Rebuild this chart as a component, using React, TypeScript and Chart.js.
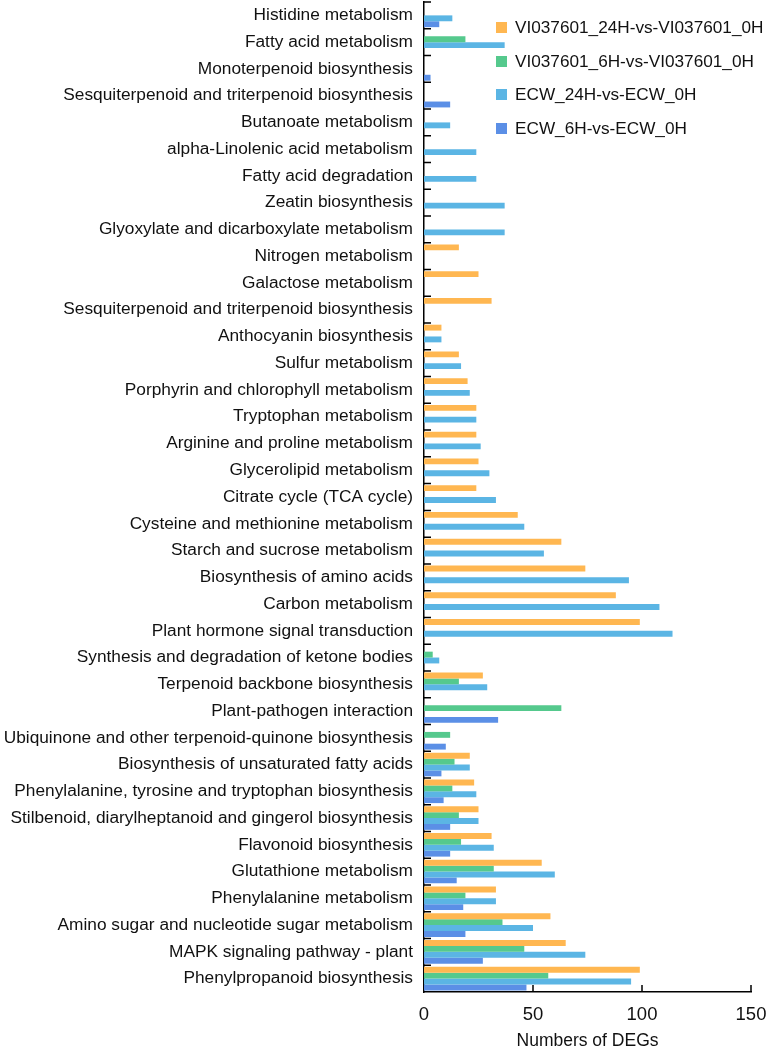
import React, { useEffect, useRef } from "react";
import { Chart, registerables } from "chart.js";

Chart.register(...registerables);

const categories = [
  "Histidine metabolism",
  "Fatty acid metabolism",
  "Monoterpenoid biosynthesis",
  "Sesquiterpenoid and triterpenoid biosynthesis",
  "Butanoate metabolism",
  "alpha-Linolenic acid metabolism",
  "Fatty acid degradation",
  "Zeatin biosynthesis",
  "Glyoxylate and dicarboxylate metabolism",
  "Nitrogen metabolism",
  "Galactose metabolism",
  "Sesquiterpenoid and triterpenoid biosynthesis",
  "Anthocyanin biosynthesis",
  "Sulfur metabolism",
  "Porphyrin and chlorophyll metabolism",
  "Tryptophan metabolism",
  "Arginine and proline metabolism",
  "Glycerolipid metabolism",
  "Citrate cycle (TCA cycle)",
  "Cysteine and methionine metabolism",
  "Starch and sucrose metabolism",
  "Biosynthesis of amino acids",
  "Carbon metabolism",
  "Plant hormone signal transduction",
  "Synthesis and degradation of ketone bodies",
  "Terpenoid backbone biosynthesis",
  "Plant-pathogen interaction",
  "Ubiquinone and other terpenoid-quinone biosynthesis",
  "Biosynthesis of unsaturated fatty acids",
  "Phenylalanine, tyrosine and tryptophan biosynthesis",
  "Stilbenoid, diarylheptanoid and gingerol biosynthesis",
  "Flavonoid biosynthesis",
  "Glutathione metabolism",
  "Phenylalanine metabolism",
  "Amino sugar and nucleotide sugar metabolism",
  "MAPK signaling pathway - plant",
  "Phenylpropanoid biosynthesis",
];

const seriesNames = [
  "VI037601_24H-vs-VI037601_0H",
  "VI037601_6H-vs-VI037601_0H",
  "ECW_24H-vs-ECW_0H",
  "ECW_6H-vs-ECW_0H",
];

const vi24h = [
  0, 0, 0, 0, 0, 0, 0, 0, 0, 16, 25, 31, 8, 16, 20, 24, 24, 25, 24, 43, 63, 74, 88, 99,
  0, 27, 0, 0, 21, 23, 25, 31, 54, 33, 58, 65, 99,
];
const vi6h = [
  0, 19, 0, 0, 0, 0, 0, 0, 0, 0, 0, 0, 0, 0, 0, 0, 0, 0, 0, 0, 0, 0, 0, 0,
  4, 16, 63, 12, 14, 13, 16, 17, 32, 19, 36, 46, 57,
];
const ecw24h = [
  13, 37, 0, 0, 12, 24, 24, 37, 37, 0, 0, 0, 8, 17, 21, 24, 26, 30, 33, 46, 55, 94, 108, 114,
  7, 29, 0, 0, 21, 24, 25, 32, 60, 33, 50, 74, 95,
];
const ecw6h = [
  7, 0, 3, 12, 0, 0, 0, 0, 0, 0, 0, 0, 0, 0, 0, 0, 0, 0, 0, 0, 0, 0, 0, 0,
  0, 0, 34, 10, 8, 9, 12, 12, 15, 18, 19, 27, 47,
];

const xTicks = [0, 50, 100, 150];
const colors = ["#FFB751", "#55C98D", "#5BB5E4", "#5B8FE6"];

const FONT = "'Liberation Sans', Arial, sans-serif";

const innerTicks = {
  id: "innerTicks",
  afterDraw(chart: any) {
    const { ctx, chartArea } = chart;
    const y = chart.scales.y;
    const x = chart.scales.x;
    ctx.save();
    ctx.strokeStyle = "#000";
    ctx.lineWidth = 1.5;
    const n = y.ticks.length;
    const step = (y.bottom - y.top) / n;
    ctx.beginPath();
    for (let i = 0; i < n; i++) {
      const yy = y.getPixelForValue(i) - step / 2;
      ctx.moveTo(chartArea.left, yy);
      ctx.lineTo(chartArea.left + 7, yy);
    }
    for (const v of xTicks) {
      if (v === 0) continue;
      const xx = x.getPixelForValue(v);
      ctx.moveTo(xx, chartArea.bottom);
      ctx.lineTo(xx, chartArea.bottom - 7);
    }
    ctx.stroke();
    ctx.restore();
  },
};

export default function App() {
  const ref = useRef<HTMLCanvasElement>(null);
  useEffect(() => {
    document.body.style.margin = "0";
    const data = [vi24h, vi6h, ecw24h, ecw6h];
    const chart = new Chart(ref.current!, {
      type: "bar",
      data: {
        labels: categories,
        datasets: seriesNames.map((name, i) => ({
          label: name,
          data: data[i],
          backgroundColor: colors[i],
          borderWidth: 0,
          categoryPercentage: 0.88,
          barPercentage: 1,
        })),
      },
      options: {
        indexAxis: "y",
        animation: false,
        responsive: false,
        layout: { padding: { top: 2, right: 0, bottom: 0, left: 0 } },
        plugins: { legend: { display: false }, tooltip: { enabled: false } },
        scales: {
          y: {
            type: "category",
            grid: { display: false, drawTicks: false },
            border: { display: true, color: "#000", width: 1.5 },
            ticks: {
              color: "#111",
              font: { family: FONT, size: 17.3 },
              padding: 11,
              autoSkip: false,
            },
            afterFit: (s: any) => {
              s.width = 424;
              s.paddingTop = 0;
              s.paddingBottom = 0;
            },
          },
          x: {
            type: "linear",
            min: 0,
            max: 150,
            grid: { display: false, drawTicks: false },
            border: { display: true, color: "#000", width: 1.5 },
            afterBuildTicks: (s: any) => {
              s.ticks = xTicks.map((v) => ({ value: v }));
            },
            ticks: {
              color: "#111",
              font: { family: FONT, size: 18.5 },
              padding: 12,
            },
            title: {
              display: true,
              text: "Numbers of DEGs",
              color: "#111",
              font: { family: FONT, size: 17.5, lineHeight: 1 },
              padding: { top: 0, bottom: 2 },
            },
            afterFit: (s: any) => {
              s.height = 60;
              s.paddingRight = 15;
              s.paddingLeft = 0;
            },
          },
        },
      },
      plugins: [innerTicks],
    });
    return () => chart.destroy();
  }, []);

  return (
    <div style={{ position: "relative", width: 766, height: 1052, background: "#fff" }}>
      <canvas ref={ref} width={766} height={1052} style={{ display: "block" }} />
      <div style={{ position: "absolute", left: 496, top: 11, fontFamily: FONT, fontSize: 17.2, color: "#111" }}>
        {seriesNames.map((name, i) => (
          <div key={name} style={{ display: "flex", alignItems: "center", height: 33.5, whiteSpace: "nowrap" }}>
            <span style={{ display: "inline-block", width: 11, height: 11, background: colors[i], marginRight: 8 }} />
            <span>{name}</span>
          </div>
        ))}
      </div>
    </div>
  );
}
